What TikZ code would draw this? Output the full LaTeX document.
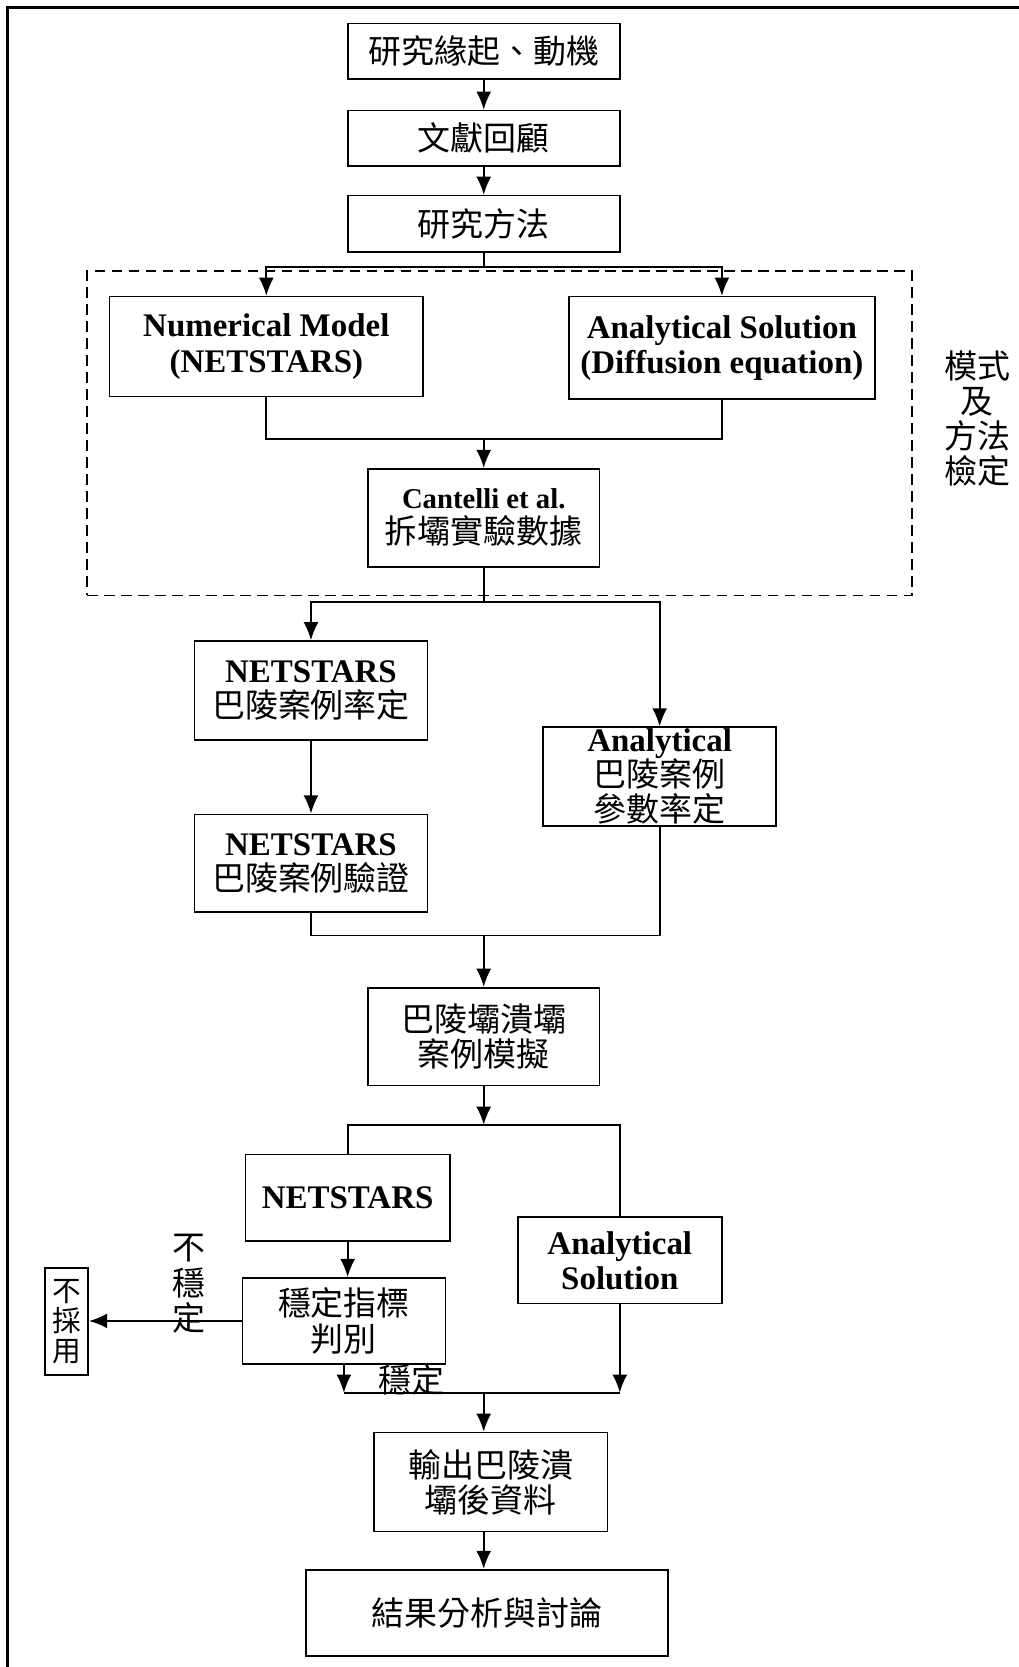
\documentclass[tikz,border=0pt]{standalone}
\usepackage{fontspec}
\setmainfont{Liberation Serif}
\newfontfamily\cjk{Noto Sans CJK TC}
\usetikzlibrary{arrows.meta}
\newcommand\latb[1]{{\rmfamily\bfseries #1}}

\begin{document}
\begin{tikzpicture}[x=0.5pt,y=-0.5pt,line width=0.8pt,
  sz/.style 2 args={minimum width=#1*0.5pt,minimum height=#2*0.5pt},
  box/.style={draw,line width=0.8pt,inner sep=0pt,align=center,
    font=\cjk\fontsize{15.5}{16.5}\selectfont},
  lbl/.style={inner sep=0pt,align=center,font=\cjk\fontsize{15.5}{16.5}\selectfont},
  arr/.style={-{Latex[length=8.5pt,width=7pt]}},
  group/.style={draw,dash pattern=on 5pt off 3pt,line width=0.8pt,inner sep=0pt}
]
\useasboundingbox (0,0) rectangle (958,1568);

% page frame (top and left edges)
\draw[line width=1.2pt] (958,7) -- (7,7) -- (7,1568);

% dashed group: model and method verification
\node[group,sz={776}{305}] (grp) at (470,407.5) {};
\node[lbl] (lgrp) at (919,394) {模式\\及\\方法\\檢定};

% boxes
\node[box,sz={256}{52}] (b1) at (455,48) {研究緣起、動機};
\node[box,sz={256}{52}] (b2) at (455,130) {文獻回顧};
\node[box,sz={256}{53}] (b3) at (455,210.5) {研究方法};
\node[box,sz={295}{94}] (nm) at (250.5,326) {\latb{Numerical Model}\\\latb{(NETSTARS)}};
\node[box,sz={288}{96}] (as) at (679,327) {\latb{Analytical Solution}\\\latb{(Diffusion equation)}};
\node[box,sz={218}{92}] (ct) at (455,487) {{\rmfamily\bfseries\fontsize{13.5}{16.5}\selectfont Cantelli et al.}\\拆壩實驗數據};
\node[box,sz={219}{93}] (nr) at (292.5,649.5) {\latb{NETSTARS}\\巴陵案例率定};
\node[box,sz={219}{92}] (nv) at (292.5,812) {\latb{NETSTARS}\\巴陵案例驗證};
\node[box,sz={219}{93}] (ap) at (620.5,730.5) {\latb{Analytical}\\巴陵案例\\參數率定};
\node[box,sz={218}{92}] (sim) at (455,975) {巴陵壩潰壩\\案例模擬};
\node[box,sz={192}{81}] (nb) at (327,1126.5) {\latb{NETSTARS}};
\node[box,sz={192}{81}] (ab) at (583,1185.5) {\latb{Analytical}\\\latb{Solution}};
\node[box,sz={191}{81}] (st) at (323.5,1242.5) {穩定指標\\判別};
\node[box,sz={41}{101},font=\cjk\fontsize{13.5}{14}\selectfont] (no) at (62.5,1243) {不\\採\\用};
\node[box,sz={220}{93}] (out) at (461.5,1394) {輸出巴陵潰\\壩後資料};
\node[box,sz={340}{81}] (res) at (458,1517) {結果分析與討論};

% side labels
\node[lbl] (lun) at (178,1207.5) {不\\穩\\定};
\node[lbl] (lst) at (387,1298) {穩定};

% junctions
\coordinate (j1) at (455,251);
\coordinate (j2) at (455,413);
\coordinate (j3) at (455,566);
\coordinate (j4) at (455,880);
\coordinate (j5) at (455,1058);
\coordinate (j6) at (455,1310);

% connectors
\draw[arr] (b1) -- (b2);
\draw[arr] (b2) -- (b3);
\draw (b3) -- (j1);
\draw[arr] (j1) -| (nm.north);
\draw[arr] (j1) -| (as.north);
\draw (nm.south) |- (j2) -| (as.south);
\draw[arr] (j2) -- (ct);
\draw (ct) -- (j3);
\draw[arr] (j3) -| (nr.north);
\draw[arr] (j3) -| (ap.north);
\draw[arr] (nr) -- (nv);
\draw (nv.south) |- (j4) -| (ap.south);
\draw[arr] (j4) -- (sim);
\draw[arr] (sim) -- (j5);
\draw (nb.north) |- (j5) -| (ab.north);
\draw[arr] (nb.south) -- (nb.south |- st.north);
\draw[arr] (st.west) -- (st.west -| no.east);
\draw[arr] (st.south) -- (st.south |- j6);
\draw[arr] (ab.south) -- (ab.south |- j6);
\draw (st.south |- j6) -- (ab.south |- j6);
\draw[arr] (j6) -- (j6 |- out.north);
\draw[arr] (j6 |- out.south) -- (j6 |- res.north);
\end{tikzpicture}
\end{document}
